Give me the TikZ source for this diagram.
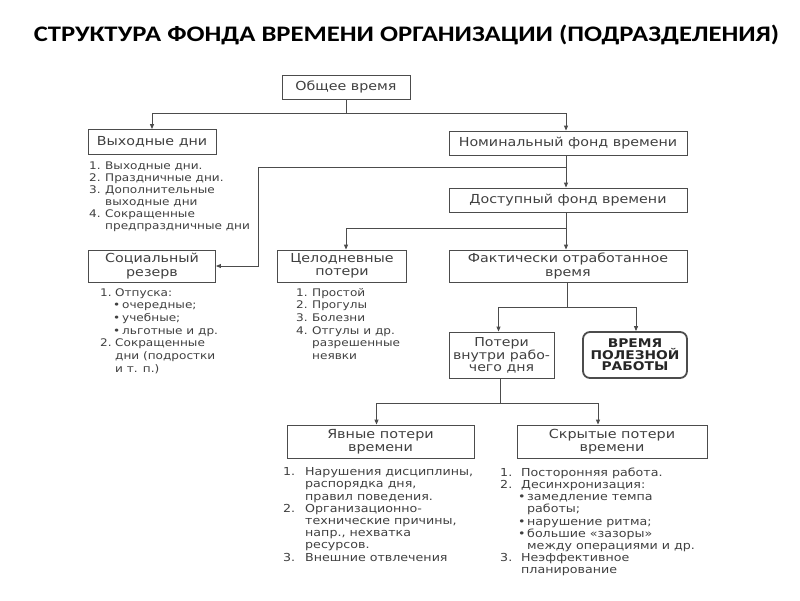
\documentclass[tikz,border=0pt]{standalone}
\usepackage{fontspec}
\setmainfont[FakeStretch=1.15]{DejaVu Sans}
\newfontfamily\titlefont[FakeStretch=1.2]{Carlito}
\usetikzlibrary{arrows.meta}
\newcommand\lnum[3]{\makebox[#1pt][l]{#2}#3}
\newcommand\lcont[2]{\hspace*{#1pt}#2}
\newcommand\lbul[3]{\hspace*{#1pt}\makebox[#2pt][l]{•}#3}
\begin{document}
\begin{tikzpicture}[x=1pt,y=-1pt,
  box/.style={draw=black!70, line width=0.9pt, align=center, inner sep=0pt,
    font=\fontsize{12.4}{13.5}\selectfont, text=black!75},
  lst/.style={anchor=north west, align=left, inner sep=0pt,
    font=\fontsize{10.5}{12}\selectfont, text=black!75},
  lsts/.style={lst, font=\fontsize{10.5}{12.7}\selectfont},
  lstb/.style={lst, font=\fontsize{11}{12.2}\selectfont},
  con/.style={draw=black!70, line width=0.9pt},
  arr/.style={con, -{Triangle[length=5pt,width=4pt]}}]
\useasboundingbox[fill=white] (0,0) rectangle (800,600);

\node[font=\titlefont\bfseries\fontsize{22.2}{24}\selectfont] (title) at (406.5,35)
  {СТРУКТУРА ФОНДА ВРЕМЕНИ ОРГАНИЗАЦИИ (ПОДРАЗДЕЛЕНИЯ)};

% boxes
\node[box, minimum width=128pt, minimum height=24pt] (gen) at (346,87) {Общее время};
\node[box, minimum width=128pt, minimum height=25pt] (vyh) at (152,142) {Выходные дни};
\node[box, minimum width=238pt, minimum height=24pt] (nom) at (568,143) {Номинальный фонд времени};
\node[box, minimum width=238pt, minimum height=24pt] (dost) at (568,200) {Доступный фонд времени};
\node[box, minimum width=127pt, minimum height=32pt] (soc) at (152,266) {Социальный\\резерв};
\node[box, minimum width=129pt, minimum height=32pt] (cel) at (342,266) {Целодневные\\потери};
\node[box, minimum width=238pt, minimum height=32pt] (fakt) at (568,266) {Фактически отработанное\\время};
\node[box, minimum width=105pt, minimum height=46pt, font=\fontsize{12.3}{12}\selectfont] (pot) at (501.5,355) {Потери\\внутри рабо-\\чего дня};
\node[box, minimum width=104pt, minimum height=46pt, line width=1.8pt, rounded corners=7pt,
  font=\bfseries\fontsize{12}{11.5}\selectfont, text=black!85] (vrem) at (635,355) {ВРЕМЯ\\ПОЛЕЗНОЙ\\РАБОТЫ};
\node[box, minimum width=187pt, minimum height=33pt, font=\fontsize{12.5}{12.5}\selectfont] (yav) at (380.5,441.5) {Явные потери\\времени};
\node[box, minimum width=190pt, minimum height=33pt, font=\fontsize{12.5}{12.5}\selectfont] (skr) at (612,441.5) {Скрытые потери\\времени};

% lists
\node[lst] (lvyh) at (89,161.5) {%
  \lnum{16}{1.}{Выходные дни.}\\
  \lnum{16}{2.}{Праздничные дни.}\\
  \lnum{16}{3.}{Дополнительные}\\
  \lcont{16}{выходные дни}\\
  \lnum{16}{4.}{Сокращенные}\\
  \lcont{16}{предпраздничные дни}};
\node[lsts] (lsoc) at (100,288) {%
  \lnum{15}{1.}{Отпуска:}\\
  \lbul{13}{9}{очередные;}\\
  \lbul{13}{9}{учебные;}\\
  \lbul{13}{9}{льготные и др.}\\
  \lnum{15}{2.}{Сокращенные}\\
  \lcont{15}{дни (подростки}\\
  \lcont{15}{и т. п.)}};
\node[lsts] (lcel) at (296,288) {%
  \lnum{16}{1.}{Простой}\\
  \lnum{16}{2.}{Прогулы}\\
  \lnum{16}{3.}{Болезни}\\
  \lnum{16}{4.}{Отгулы и др.}\\
  \lcont{16}{разрешенные}\\
  \lcont{16}{неявки}};
\node[lstb] (lyav) at (283,467.5) {%
  \lnum{22}{1.}{Нарушения дисциплины,}\\
  \lcont{22}{распорядка дня,}\\
  \lcont{22}{правил поведения.}\\
  \lnum{22}{2.}{Организационно-}\\
  \lcont{22}{технические причины,}\\
  \lcont{22}{напр., нехватка}\\
  \lcont{22}{ресурсов.}\\
  \lnum{22}{3.}{Внешние отвлечения}};
\node[lstb] (lskr) at (500,467.5) {%
  \lnum{21}{1.}{Посторонняя работа.}\\
  \lnum{21}{2.}{Десинхронизация:}\\
  \lbul{18}{9}{замедление темпа}\\
  \lcont{27}{работы;}\\
  \lbul{18}{9}{нарушение ритма;}\\
  \lbul{18}{9}{большие «зазоры»}\\
  \lcont{27}{между операциями и др.}\\
  \lnum{21}{3.}{Неэффективное}\\
  \lcont{21}{планирование}};

% connectors
\coordinate (j1) at (346,113);
\draw[con] (gen.south) -- (j1);
\draw[arr] (j1) -| (vyh.north);
\draw[arr] (j1) -| ([xshift=-2pt]nom.north);
\draw[arr] ([xshift=-2pt]nom.south) -- ([xshift=-2pt]dost.north);
\coordinate (j2) at (566,167);
\coordinate (k2) at (258,167);
\draw[arr] (j2) -- (k2) |- (soc.east);
\coordinate (j3) at (566,228);
\draw[arr] ([xshift=-2pt]dost.south) -- ([xshift=-2pt]fakt.north);
\draw[arr] (j3) -| ([xshift=4pt]cel.north);
\coordinate (j4) at (567,307);
\draw[con] ([xshift=-1pt]fakt.south) -- (j4);
\draw[arr] (j4) -| ([xshift=-3pt]pot.north);
\draw[arr] (j4) -| ([xshift=1pt]vrem.north);
\coordinate (j5) at (500,403);
\draw[con] ([xshift=-1.5pt]pot.south) -- (j5);
\draw[arr] (j5) -| ([xshift=-4pt]yav.north);
\draw[arr] (j5) -| ([xshift=-14pt]skr.north);
\end{tikzpicture}
\end{document}
